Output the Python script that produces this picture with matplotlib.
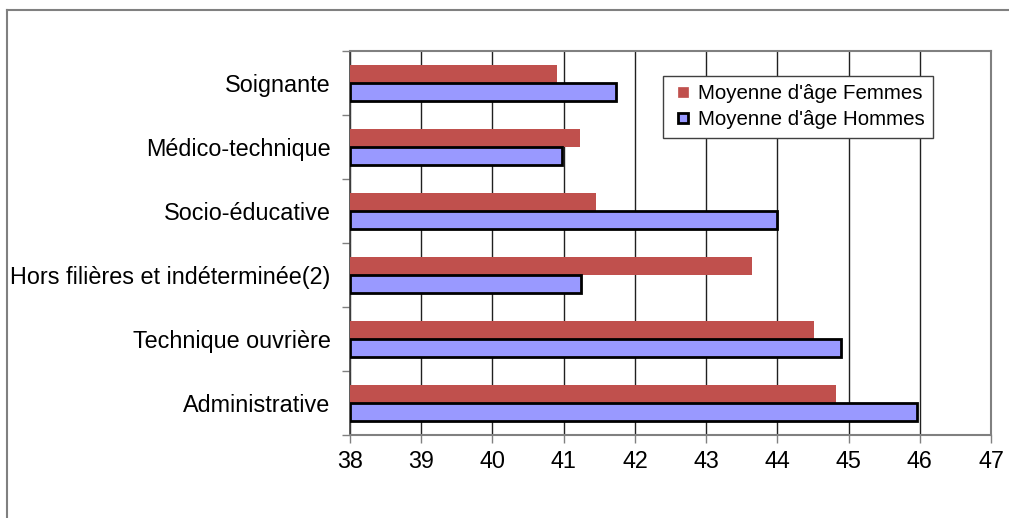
import matplotlib.pyplot as plt
from matplotlib.lines import Line2D

plt.rcParams["font.family"] = ["Liberation Sans", "DejaVu Sans"]

categories = [
    "Administrative",
    "Technique ouvrière",
    "Hors filières et indéterminée(2)",
    "Socio-éducative",
    "Médico-technique",
    "Soignante",
]
femmes = [44.83, 44.51, 43.65, 41.46, 41.23, 40.91]
hommes = [45.96, 44.89, 41.24, 44.00, 40.97, 41.74]
x_ticks = list(range(38, 48))

RED = "#C0504D"
BLUE = "#9999FF"
GRID = "#202020"
FRAME = "#808080"

fig = plt.figure(figsize=(10.09, 5.18), dpi=100)
ax = fig.add_axes([350 / 1009, 83 / 518, 641 / 1009, 384 / 518])

# outer chart-area frame (only top and left visible in the crop)
fig.add_artist(Line2D([7 / 1009, 7 / 1009], [0, 1 - 10 / 518], transform=fig.transFigure,
                      color=FRAME, linewidth=1.5))
fig.add_artist(Line2D([7 / 1009, 1], [1 - 10 / 518, 1 - 10 / 518], transform=fig.transFigure,
                      color=FRAME, linewidth=1.5))

ypos = list(range(len(categories)))
h = 0.28
base = 38
ax.barh([y + h / 2 for y in ypos], [v - base for v in femmes], left=base, height=h,
        color=RED, edgecolor="none", zorder=3)
ax.barh([y - h / 2 for y in ypos], [v - base for v in hommes], left=base, height=h,
        color=BLUE, edgecolor="black", linewidth=2, zorder=3)

ax.set_xlim(38, 47)
ax.set_ylim(-0.5, len(categories) - 0.5)
ax.set_xticks(x_ticks)
ax.set_xticklabels([str(v) for v in x_ticks], fontsize=16.8)
ax.set_yticks(ypos)
ax.set_yticklabels(categories, fontsize=16.8)
ax.set_yticks([y - 0.5 for y in range(len(categories) + 1)], minor=True)
ax.tick_params(axis="y", which="major", length=0, pad=14)
ax.tick_params(axis="y", which="minor", length=6, width=1, color=FRAME, direction="out")
ax.tick_params(axis="x", length=6, width=1, color=FRAME, direction="out", pad=5)

ax.grid(axis="x", color=GRID, linewidth=1, zorder=0)
ax.set_axisbelow(True)
for name, spine in ax.spines.items():
    spine.set_color(FRAME)
    spine.set_linewidth(1.5)
ax.spines["left"].set_color("#404040")
ax.spines["left"].set_linewidth(1.2)

handles = [
    Line2D([], [], linestyle="none", marker="s", markersize=7.2,
           markerfacecolor=RED, markeredgecolor=RED, markeredgewidth=0.5,
           label="Moyenne d'âge Femmes"),
    Line2D([], [], linestyle="none", marker="s", markersize=7.2,
           markerfacecolor=BLUE, markeredgecolor="black", markeredgewidth=2,
           label="Moyenne d'âge Hommes"),
]
leg = ax.legend(handles=handles, loc="upper left", bbox_to_anchor=(0.488, 0.935),
                fontsize=14.8, fancybox=False, framealpha=1, edgecolor="#404040",
                handlelength=1.2, handletextpad=0.1,
                borderpad=0.4, labelspacing=0.35, borderaxespad=0)
leg.get_frame().set_linewidth(1)

fig.savefig("out.png", dpi=100)
